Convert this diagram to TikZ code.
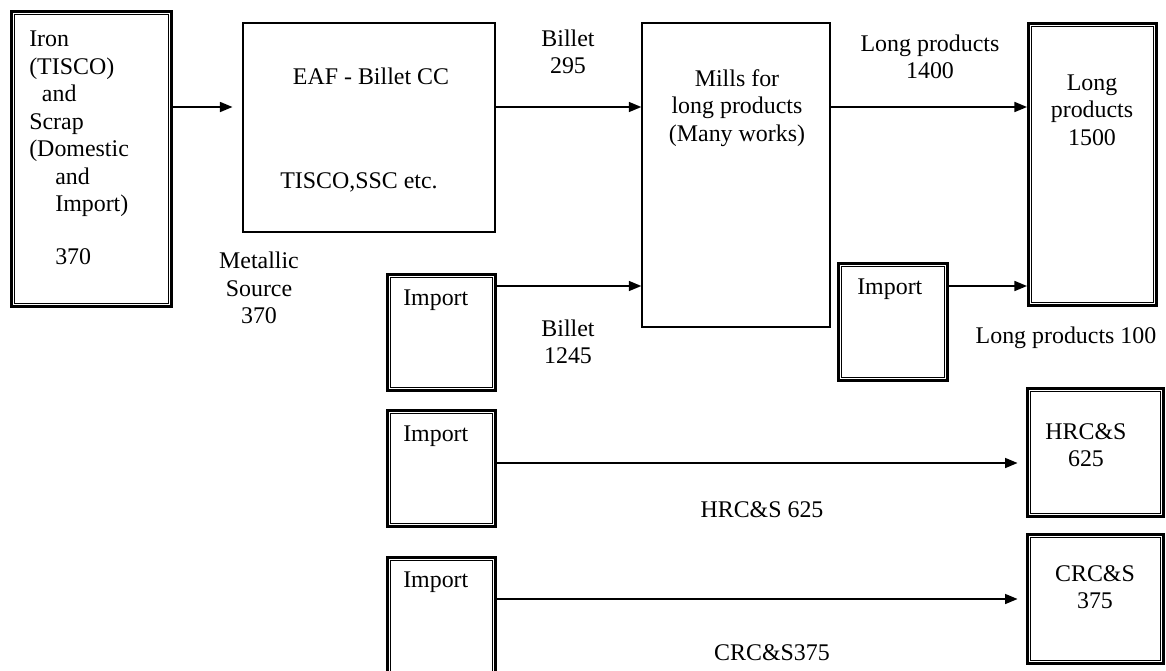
\documentclass[tikz,border=0pt]{standalone}
\usepackage{fontspec}
\setmainfont{Liberation Serif}
\usetikzlibrary{arrows.meta,fit}

\begin{document}
\begin{tikzpicture}[x=0.025cm,y=-0.025cm,
  every node/.style={font=\fontsize{17}{19.6}\selectfont, inner sep=0pt},
  dbox/.style={draw, line width=2pt, inner sep=0pt},
  sbox/.style={draw, line width=0.8pt, inner sep=0pt},
  flow/.style={line width=1.5pt, -{Triangle[length=9pt,width=7pt]}}]
  \useasboundingbox (0,0) rectangle (1166,671);

  % boxes
  \node[dbox, fit={(11.5,11.5) (171.5,306.5)}] (src) {};
  \node[sbox, fit={(243,23) (495,232)}] (eaf) {};
  \node[sbox, fit={(642,23) (830,327)}] (mills) {};
  \node[dbox, fit={(1028.5,23.5) (1156.5,305.5)}] (long) {};
  \node[dbox, fit={(387.5,274.5) (495.5,390.5)}] (imp1) {};
  \node[dbox, fit={(838.5,263.5) (947.5,380.5)}] (impL) {};
  \node[dbox, fit={(387.5,410.5) (495.5,526.5)}] (imp2) {};
  \node[dbox, fit={(1027.5,388.5) (1163.5,516.5)}] (hrc) {};
  \node[dbox, fit={(387.5,557.5) (495.5,690)}] (imp3) {};
  \node[dbox, fit={(1027.5,534.5) (1163.5,663.5)}] (crc) {};
  % thin inner frame of the double boxes
  \foreach \b in {src,long,imp1,impL,imp2,hrc,imp3,crc}
    \draw[line width=0.7pt] ([shift={(3.2pt,-3.2pt)}]\b.north west) rectangle
      ([shift={(-3.2pt,3.2pt)}]\b.south east);

  % texts in the boxes
  \node[anchor=west, align=left] (srctxt) at (29,148) {Iron\\(TISCO)\\\hspace*{9pt}and\\Scrap\\(Domestic\\
    \hspace*{18.5pt}and\\\hspace*{18.5pt}Import)\\[18pt]\hspace*{18.5pt}370};
  \node (eaftxt) at (371,76) {EAF - Billet CC};
  \node (eafwho) at (359,182) {TISCO,SSC etc.};
  \node[align=center] (millstxt) at (737,108) {Mills for\\long products\\(Many works)};
  \node[align=center] (longtxt) at (1092,110) {Long\\products\\1500};
  \node[anchor=west] (imp1txt) at (403,300) {Import};
  \node[anchor=west] (impLtxt) at (857,289) {Import};
  \node[anchor=west] (imp2txt) at (403,436) {Import};
  \node[anchor=west] (imp3txt) at (403,582) {Import};
  \node[align=center] (hrctxt) at (1086,445) {HRC\&S\\625};
  \node[align=center] (crctxt) at (1095,587) {CRC\&S\\375};

  % flow labels
  \node[align=center] (metal) at (259,288) {Metallic\\Source\\370};
  \node[align=center] (b295) at (568,52) {Billet\\295};
  \node[align=center] (b1245) at (568,342) {Billet\\1245};
  \node[align=center] (lp1400) at (930,57) {Long products\\1400};
  \node (lp100) at (1066,338) {Long products 100};
  \node (hrclab) at (762,510) {HRC\&S 625};
  \node (crclab) at (772,653) {CRC\&S375};

  % flows
  \coordinate (row1) at (0,107);
  \coordinate (row2) at (0,286);
  \coordinate (row3) at (0,463);
  \coordinate (row4) at (0,599);
  \draw[flow, shorten >=7pt] (src.east |- row1) -- (eaf.west |- row1);
  \draw[flow] (eaf.east |- row1) -- (mills.west |- row1);
  \draw[flow] (mills.east |- row1) -- (long.west |- row1);
  \draw[flow] (imp1.east |- row2) -- (mills.west |- row2);
  \draw[flow] (impL.east |- row2) -- (long.west |- row2);
  \draw[flow, shorten >=6pt] (imp2.east |- row3) -- (hrc.west |- row3);
  \draw[flow, shorten >=6pt] (imp3.east |- row4) -- (crc.west |- row4);
\end{tikzpicture}
\end{document}
